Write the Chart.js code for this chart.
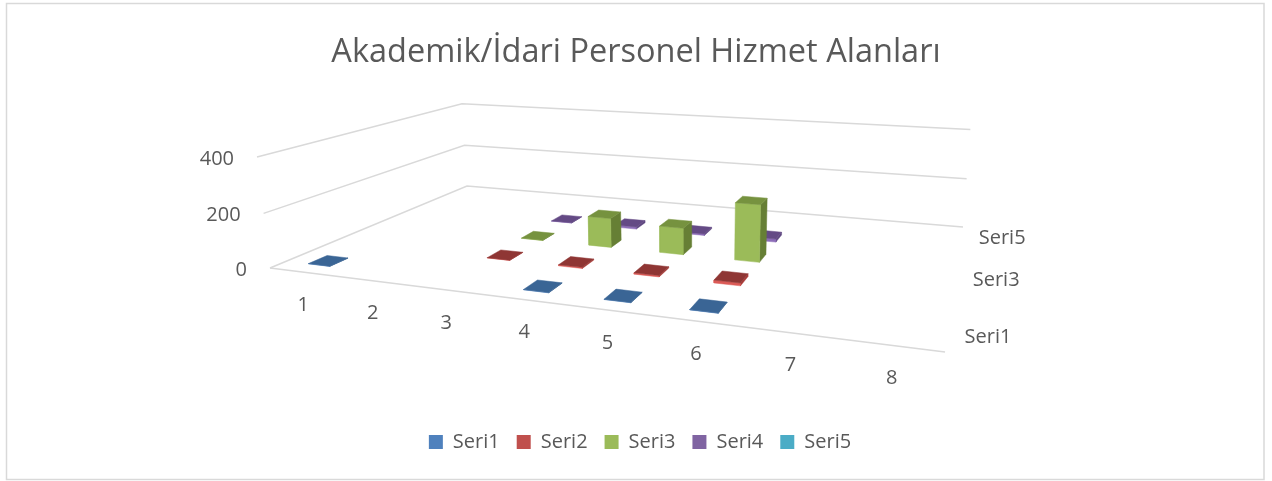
<!DOCTYPE html>
<html>
<head>
<meta charset="utf-8">
<style>
  html, body { margin: 0; padding: 0; background: #fff; }
  canvas { display: block; }
</style>
<script src="https://cdn.jsdelivr.net/npm/chart.js@4"></script>
</head>
<body>
<canvas id="myChart" width="1272" height="481"></canvas>
<script>
const titleText = 'Akademik/İdari Personel Hizmet Alanları';
const categories = ['1', '2', '3', '4', '5', '6', '7', '8'];
const seriesNames = ['Seri1', 'Seri2', 'Seri3', 'Seri4', 'Seri5'];
const seriesTicks = ['Seri1', '', 'Seri3', '', 'Seri5'];
const valueTicks = [0, 200, 400];

const seri1 = [1, null, null, 1, 1, 1, null, null];
const seri2 = [null, null, 1, 4, 5, 10, null, null];
const seri3 = [null, null, 1, 113, 101, 213, null, null];
const seri4 = [null, null, 1, 9, 6, 12, null, null];
const seri5 = [null, null, null, null, null, null, null, null];
const allSeries = [seri1, seri2, seri3, seri4, seri5];

const legendColors = ['#4F81BD', '#C0504D', '#9BBB59', '#8064A2', '#4BACC6'];
const frontColors = ['#4F81BD', '#DC5B57', '#9BBB59', '#8D6DB8', '#4BACC6'];
const sideColors = ['#3B6591', '#A83A37', '#667F35', '#5E4780', '#3A8CA3'];
const topColors = ['#3A6595', '#8F3634', '#76923F', '#644A85', '#37879C'];
const gridColor = '#D9D9D9';
const textColor = '#595959';
const fontName = '"Open Sans"';

const valueMax = 400;
const barWidth = 0.32;
const barDepth = 0.38;

// camera fitted on the corners of the floor and of the back walls
function project(u, v, w) {
    const d = -0.223 * u + 0.369 * v - 0.03 * w + 1;
    return {
        x: (464.3 * u + 369.3 * v - 20.7 * w + 270) / d,
        y: (5.5 * u - 13.4 * v - 115.7 * w + 268) / d
    };
}

function face(points, color) {
    return {
        data: points.map(p => project(p[0], p[1], p[2])),
        showLine: true,
        fill: 'shape',
        backgroundColor: color,
        borderColor: color,
        borderWidth: 0.5,
        pointRadius: 0,
        tension: 0,
        clip: false
    };
}

function gridLine(points) {
    return {
        data: points.map(p => project(p[0], p[1], p[2])),
        showLine: true,
        fill: false,
        borderColor: gridColor,
        borderWidth: 1.5,
        pointRadius: 0,
        tension: 0,
        clip: false
    };
}

// paint order, back to front
let painted = [];
valueTicks.forEach(t => {
    const w = t / valueMax;
    painted.push(gridLine([[0, 0, w], [0, 1, w], [1, 1, w]]));
});
painted.push(gridLine([[0, 0, 0], [1, 0, 0]]));

for (let s = allSeries.length - 1; s >= 0; s--) {
    allSeries[s].forEach((value, i) => {
        if (value === null) return;
        const u0 = (i + 0.5 - barWidth / 2) / categories.length;
        const u1 = (i + 0.5 + barWidth / 2) / categories.length;
        const v0 = (s + 0.5 - barDepth / 2) / allSeries.length;
        const v1 = (s + 0.5 + barDepth / 2) / allSeries.length;
        const w = value / valueMax;
        painted.push(face([[u1, v0, 0], [u1, v1, 0], [u1, v1, w], [u1, v0, w], [u1, v0, 0]], sideColors[s]));
        painted.push(face([[u0, v0, 0], [u1, v0, 0], [u1, v0, w], [u0, v0, w], [u0, v0, 0]], frontColors[s]));
        painted.push(face([[u0, v0, w], [u1, v0, w], [u1, v1, w], [u0, v1, w], [u0, v0, w]], topColors[s]));
    });
}

// scales run in canvas pixels once the title and legend have taken their room
const pixelScales = {
    id: 'pixelScales',
    afterLayout(chart) {
        const { x, y } = chart.scales;
        x.min = x.left; x.max = x.right; x.configure();
        y.min = y.top; y.max = y.bottom; y.configure();
        // legend sits a little right of centre in the original
        chart.legend.left += 4;
        chart.legend.right += 4;
    }
};

const axisLabels = {
    id: 'axisLabels',
    beforeDraw(chart) {
        const ctx = chart.ctx;
        ctx.save();
        ctx.strokeStyle = gridColor;
        ctx.lineWidth = 1.5;
        ctx.strokeRect(6.5, 3.5, 1257.5, 476);
        ctx.restore();
    },
    afterDraw(chart) {
        const { ctx, scales } = chart;
        const put = (text, p, dx, dy, align) => {
            ctx.textAlign = align;
            ctx.fillText(text, scales.x.getPixelForValue(p.x) + dx, scales.y.getPixelForValue(p.y) + dy);
        };
        ctx.save();
        ctx.fillStyle = textColor;
        ctx.textBaseline = 'middle';
        ctx.font = '20px ' + fontName;
        categories.forEach((c, i) => put(c, project((i + 0.5) / categories.length, 0, 0), 0, 33, 'center'));
        seriesTicks.forEach((name, s) => put(name, project(1, (s + 0.5) / seriesTicks.length, 0), 17, 3, 'left'));
        valueTicks.forEach(t => put(String(t), project(0, 0, t / valueMax), -23, 2, 'right'));
        ctx.restore();
    }
};

const myChart = new Chart(document.getElementById('myChart').getContext('2d'), {
    type: 'scatter',
    data: { datasets: painted.reverse() },
    options: {
        responsive: false,
        animation: false,
        events: [],
        layout: { padding: { bottom: 19 } },
        scales: {
            x: { type: 'linear', display: false },
            y: { type: 'linear', display: false, reverse: true }
        },
        plugins: {
            title: {
                display: true,
                text: titleText,
                color: textColor,
                font: { family: fontName, size: 32.5, weight: 'normal' },
                padding: { top: 33, bottom: 10 }
            },
            legend: {
                position: 'bottom',
                labels: {
                    boxWidth: 14,
                    boxHeight: 14,
                    padding: 17,
                    color: textColor,
                    font: { family: fontName, size: 20 },
                    generateLabels: () => seriesNames.map((name, i) => ({
                        text: name,
                        fillStyle: legendColors[i],
                        strokeStyle: legendColors[i],
                        lineWidth: 0,
                        fontColor: textColor
                    }))
                }
            },
            tooltip: { enabled: false }
        }
    },
    plugins: [pixelScales, axisLabels]
});
</script>
</body>
</html>
